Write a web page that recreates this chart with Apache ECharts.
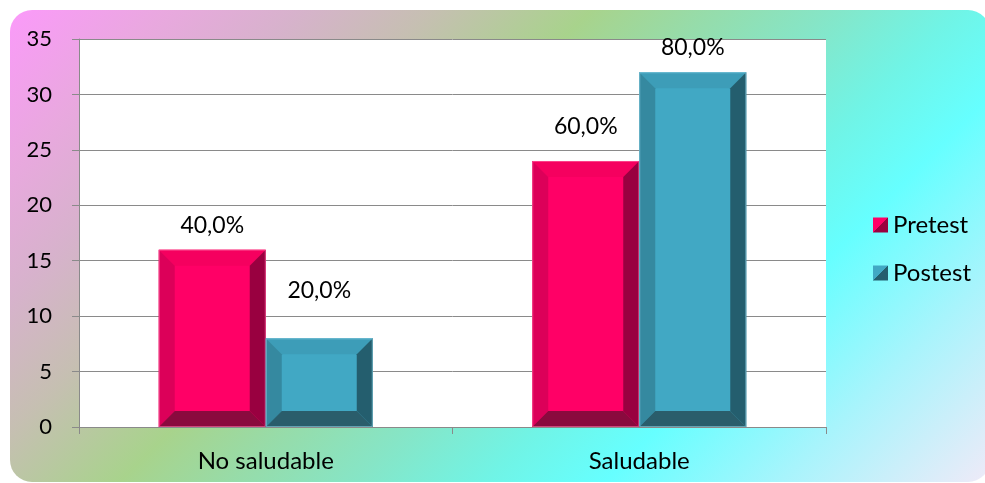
<!DOCTYPE html>
<html>
<head>
<meta charset="utf-8">
<script src="https://cdn.jsdelivr.net/npm/echarts@6/dist/echarts.min.js"></script>
<style>
  html, body { margin: 0; padding: 0; background: #ffffff; }
  #chart { width: 985px; height: 483px; }
</style>
</head>
<body>
<div id="chart"></div>
<script>
// Data
const categories = ['No saludable', 'Saludable'];
const pretestValues = [16, 24];
const postestValues = [8, 32];
const pretestLabels = ['40,0%', '60,0%'];
const postestLabels = ['20,0%', '80,0%'];
const seriesNames = ['Pretest', 'Postest'];
const yMin = 0, yMax = 35, yStep = 5;

// Styling
const FONT = 'Lato, "Open Sans", sans-serif';
const AXIS_GREY = '#8a8a8a';
const palettes = {
  Pretest: { face: '#ff0066', top: '#f5005f', left: '#dc0059', right: '#990040', bottom: '#8a0a3e', edge: '#ff6fa8' },
  Postest: { face: '#41a8c4', top: '#3d9db8', left: '#3589a0', right: '#245e6e', bottom: '#2a5d6b', edge: '#8fd0e2' }
};
// distance (px) from a bar's top to the centre of its value label
const labelLift = { Pretest: [24, 34], Postest: [48, 25] };

function bevelBar(name, side, labels) {
  const p = palettes[name];
  return function (params, api) {
    const idx = api.value(0);
    const val = api.value(1);
    const topPt = api.coord([idx, val]);
    const basePt = api.coord([idx, 0]);
    const catW = api.size([1, 0])[0];
    const w = catW * 0.2865;
    const x0 = side < 0 ? topPt[0] - w : topPt[0];
    const x1 = x0 + w;
    const y0 = topPt[1];
    const y1 = basePt[1];
    const b = Math.min(16, (y1 - y0) / 2, w / 2);
    const poly = (pts, fill) => ({ type: 'polygon', shape: { points: pts }, style: { fill: fill } });
    return {
      type: 'group',
      children: [
        { type: 'rect', shape: { x: x0, y: y0, width: w, height: y1 - y0 }, style: { fill: p.face } },
        poly([[x0, y0], [x1, y0], [x1 - b, y0 + b], [x0 + b, y0 + b]], p.top),
        poly([[x0, y0], [x0 + b, y0 + b], [x0 + b, y1 - b], [x0, y1]], p.left),
        poly([[x1, y0], [x1, y1], [x1 - b, y1 - b], [x1 - b, y0 + b]], p.right),
        poly([[x0, y1], [x0 + b, y1 - b], [x1 - b, y1 - b], [x1, y1]], p.bottom),
        { type: 'rect', shape: { x: x0 + 0.5, y: y0 + 0.5, width: w - 1, height: y1 - y0 - 1 },
          style: { fill: null, stroke: p.edge, lineWidth: 1, opacity: 0.6 } },
        { type: 'text', style: {
            text: labels[params.dataIndex],
            x: (x0 + x1) / 2, y: y0 - labelLift[name][params.dataIndex],
            align: 'center', verticalAlign: 'middle',
            font: '23px ' + FONT, fill: '#000000' } }
      ]
    };
  };
}

function splitIcon(light, dark) {
  return new echarts.graphic.LinearGradient(0, 0, 1, 1, [
    { offset: 0, color: light }, { offset: 0.5, color: light },
    { offset: 0.5, color: dark }, { offset: 1, color: dark }
  ]);
}

const chart = echarts.init(document.getElementById('chart'), null, { renderer: 'canvas' });

const option = {
  animation: false,
  graphic: {
    elements: [{
      type: 'rect', z: -10, silent: true,
      shape: { x: 10, y: 10, width: 980, height: 472, r: 22 },
      style: {
        fill: new echarts.graphic.LinearGradient(0, 0, 734, 734, [
          { offset: 0.00, color: '#fd98fd' },
          { offset: 0.12, color: '#e9a8df' },
          { offset: 0.21, color: '#d7b2cc' },
          { offset: 0.30, color: '#c6bfb2' },
          { offset: 0.41, color: '#a8d38c' },
          { offset: 0.49, color: '#96dcaa' },
          { offset: 0.57, color: '#86e5c6' },
          { offset: 0.66, color: '#70f4e6' },
          { offset: 0.74, color: '#66ffff' },
          { offset: 0.86, color: '#a8f4fc' },
          { offset: 1.00, color: '#eeeaf8' }
        ], true)
      }
    }]
  },
  grid: {
    left: 79, right: 159, top: 39, bottom: 56,
    show: true, backgroundColor: '#ffffff', borderWidth: 0
  },
  legend: {
    orient: 'vertical',
    left: 868, top: 208,
    itemWidth: 15, itemHeight: 15, itemGap: 24,
    icon: 'rect',
    textStyle: { fontFamily: FONT, fontSize: 24, color: '#000', lineHeight: 24 },
    data: [
      { name: 'Pretest', itemStyle: { color: splitIcon(palettes.Pretest.face, palettes.Pretest.right) } },
      { name: 'Postest', itemStyle: { color: splitIcon(palettes.Postest.face, palettes.Postest.right) } }
    ]
  },
  xAxis: {
    type: 'category',
    data: categories,
    boundaryGap: true,
    axisLine: { show: true, lineStyle: { color: AXIS_GREY, width: 1 } },
    axisTick: { show: true, length: 7, lineStyle: { color: AXIS_GREY } },
    axisLabel: { fontFamily: FONT, fontSize: 24, color: '#000', margin: 22 },
    splitLine: { show: false }
  },
  yAxis: {
    type: 'value',
    min: yMin, max: yMax, interval: yStep,
    axisLine: { show: true, lineStyle: { color: AXIS_GREY, width: 1 } },
    axisTick: { show: true, length: 7, lineStyle: { color: AXIS_GREY } },
    axisLabel: { fontFamily: FONT, fontSize: 22, color: '#000', margin: 27 },
    splitLine: { show: true, lineStyle: { color: AXIS_GREY, width: 1 } }
  },
  series: [
    {
      name: seriesNames[0], type: 'custom',
      itemStyle: { color: palettes.Pretest.face },
      encode: { x: 0, y: 1 },
      data: pretestValues.map((v, i) => [i, v]),
      renderItem: bevelBar('Pretest', -1, pretestLabels)
    },
    {
      name: seriesNames[1], type: 'custom',
      itemStyle: { color: palettes.Postest.face },
      encode: { x: 0, y: 1 },
      data: postestValues.map((v, i) => [i, v]),
      renderItem: bevelBar('Postest', 1, postestLabels)
    }
  ]
};

chart.setOption(option);
</script>
</body>
</html>
